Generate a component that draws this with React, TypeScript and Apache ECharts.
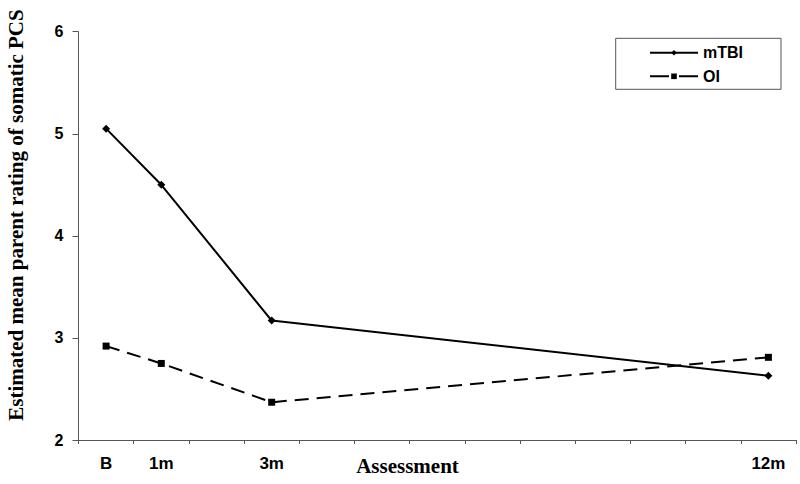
import React, { useEffect, useRef } from "react";
import * as echarts from "echarts";

const categories = ["B", "1m", "2m", "3m", "4m", "5m", "6m", "7m", "8m", "9m", "10m", "11m", "12m"];
const shownLabels = ["B", "1m", "3m", "12m"];
const mTBI = [5.05, 4.5, null, 3.17, null, null, null, null, null, null, null, null, 2.63];
const OI = [2.92, 2.75, null, 2.37, null, null, null, null, null, null, null, null, 2.81];
const yTicks = { min: 2, max: 6, interval: 1 };
const yTitle = "Estimated mean parent rating of somatic PCS";
const xTitle = "Assessment";

const SANS = "'Liberation Sans', Arial, sans-serif";
const SERIF = "'Liberation Serif', 'Times New Roman', serif";

export default function App() {
  const ref = useRef<HTMLDivElement>(null);
  useEffect(() => {
    if (!ref.current) return;
    const chart = echarts.init(ref.current, null, { renderer: "svg" });
    chart.setOption({
      animation: false,
      backgroundColor: "#fff",
      grid: { left: 78.5, right: 4, top: 31.7, bottom: 44, containLabel: false },
      xAxis: {
        type: "category",
        data: categories,
        boundaryGap: true,
        axisLine: { lineStyle: { color: "#555", width: 1 } },
        axisTick: { show: true, interval: 0, length: 4, lineStyle: { color: "#555" } },
        axisLabel: {
          interval: 0,
          margin: 15,
          color: "#000",
          fontFamily: SANS,
          fontWeight: "bold",
          fontSize: 17,
          formatter: (v: string) => (shownLabels.includes(v) ? v : ""),
        },
        splitLine: { show: false },
      },
      yAxis: {
        type: "value",
        min: yTicks.min,
        max: yTicks.max,
        interval: yTicks.interval,
        axisLine: { show: true, lineStyle: { color: "#555", width: 1 } },
        axisTick: { show: true, length: 6, lineStyle: { color: "#555" } },
        axisLabel: {
          margin: 15,
          color: "#000",
          fontFamily: SANS,
          fontWeight: "bold",
          fontSize: 16,
        },
        splitLine: { show: false },
      },
      legend: {
        orient: "vertical",
        left: 615.7,
        top: 38.3,
        padding: [6.5, 38, 5, 33.3],
        itemWidth: 48,
        itemHeight: 7,
        itemGap: 7.5,
        borderColor: "#555",
        borderWidth: 1,
        selectedMode: false,
        textStyle: { fontFamily: SANS, fontWeight: "bold", fontSize: 16, color: "#000" },
        data: [
          { name: "mTBI" },
          { name: "OI", lineStyle: { type: [19, 10] } },
        ],
      },
      graphic: [
        {
          type: "text",
          x: 16,
          y: 215,
          rotation: Math.PI / 2,
          style: {
            text: yTitle,
            font: `bold 21px ${SERIF}`,
            fill: "#000",
            textAlign: "center",
            textVerticalAlign: "middle",
          },
        },
        {
          type: "text",
          x: 407.5,
          y: 466,
          style: {
            text: xTitle,
            font: `bold 21px ${SERIF}`,
            fill: "#000",
            textAlign: "center",
            textVerticalAlign: "middle",
          },
        },
      ],
      series: [
        {
          name: "mTBI",
          type: "line",
          data: mTBI,
          connectNulls: true,
          symbol: "diamond",
          symbolSize: 8,
          itemStyle: { color: "#000" },
          lineStyle: { color: "#000", width: 2, type: "solid" },
        },
        {
          name: "OI",
          type: "line",
          data: OI,
          connectNulls: true,
          symbol: "rect",
          symbolSize: 7,
          itemStyle: { color: "#000" },
          lineStyle: { color: "#000", width: 2, type: [14, 8] },
        },
      ],
    });
    return () => chart.dispose();
  }, []);
  return (
    <div
      ref={ref}
      style={{ position: "fixed", left: 0, top: 0, width: 800, height: 484, background: "#fff" }}
    />
  );
}
